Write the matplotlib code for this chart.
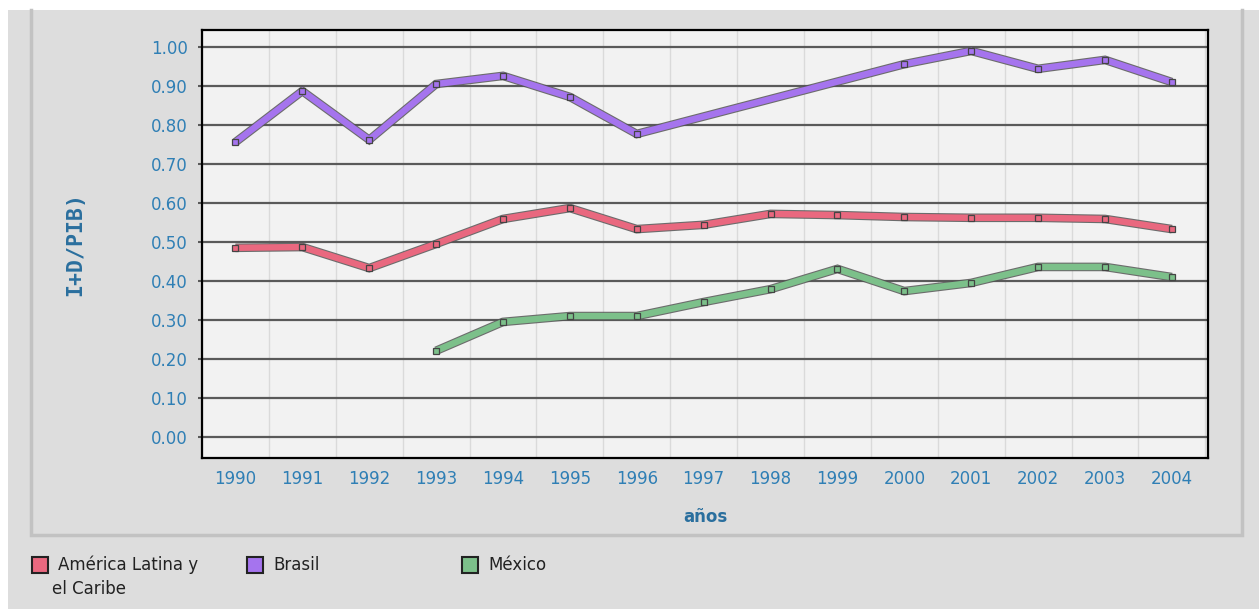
import numpy as np
import matplotlib
matplotlib.use("Agg")
import matplotlib.pyplot as plt
from matplotlib import patheffects as pe
from matplotlib.patches import Rectangle
from matplotlib.lines import Line2D

years = list(range(1990, 2005))
america_latina = [0.485, 0.487, 0.433, 0.495, 0.559, 0.587, 0.533, 0.544,
                  0.572, 0.569, 0.564, 0.562, 0.562, 0.559, 0.533]
brasil = [0.756, 0.887, 0.762, 0.905, 0.926, 0.872, 0.777, None,
          None, None, 0.956, 0.990, 0.944, 0.967, 0.910]
mexico = [None, None, None, 0.221, 0.295, 0.310, 0.310, 0.346,
          0.379, 0.431, 0.374, 0.395, 0.436, 0.436, 0.410]

series = [("América Latina y\nel Caribe", america_latina, "#e9687f"),
          ("Brasil", brasil, "#a574ee"),
          ("México", mexico, "#7cc08a")]

yticks = [i / 10 for i in range(11)]
tick_color = "#2f7fb5"
label_color = "#2a6f9e"

W, H = 1259, 609
fig = plt.figure(figsize=(W / 100, H / 100), dpi=100)
fig.patch.set_facecolor("white")

# gray page background and panel frame (left, bottom, right sides only)
fig.patches.append(Rectangle((8 / W, 0), 1, 1 - 10 / H, transform=fig.transFigure,
                             facecolor="#dddddd", edgecolor="none", zorder=-10))
px = [31 / W, 31 / W, 1242 / W, 1242 / W]
py = [1 - 10 / H, 1 - 535 / H, 1 - 535 / H, 1 - 10 / H]
fig.lines.append(Line2D(px, py, transform=fig.transFigure, color="#c2c2c2",
                        linewidth=2.5, solid_joinstyle="miter", zorder=-9))

ax = fig.add_axes([202 / W, 1 - 458 / H, (1208 - 202) / W, (458 - 30) / H])
ax.set_facecolor("#f2f2f2")

for name, vals, col in series:
    xs = [x for x, v in zip(years, vals) if v is not None]
    ys = [v for v in vals if v is not None]
    ax.plot(xs, ys, color=col, linewidth=4.6, solid_capstyle="butt",
            solid_joinstyle="miter", zorder=3,
            path_effects=[pe.Stroke(linewidth=6.2, foreground="#555555", alpha=0.85),
                          pe.Normal()])
    ax.plot(xs, ys, linestyle="none", marker="s", markersize=5,
            markerfacecolor=col, markeredgecolor="#444444",
            markeredgewidth=0.9, zorder=4)

ax.set_xlim(1989.5, 2004.54)
ax.set_ylim(-0.054, 1.0436)
ax.set_xticks(years)
ax.set_xticks(np.arange(1989.5, 2005, 1.0), minor=True)
ax.set_yticks(yticks)
ax.set_yticklabels([f"{v:.2f}" for v in yticks])

ax.grid(True, axis="y", which="major", color="#5a5a5a", linewidth=1.6, zorder=1)
ax.grid(True, axis="x", which="minor", color="#dadada", linewidth=1.0, zorder=1)
ax.grid(False, axis="x", which="major")
ax.set_axisbelow(True)

ax.tick_params(axis="y", which="major", length=3, width=1.5, color="#5a5a5a",
               labelcolor=tick_color, labelsize=12, pad=7)
ax.tick_params(axis="x", which="both", length=0, labelcolor=tick_color,
               labelsize=12, pad=9)
ax.tick_params(axis="y", which="minor", length=0)

for sp in ax.spines.values():
    sp.set_color("black")
    sp.set_linewidth(1.6)

ax.set_xlabel("años", fontsize=12, fontweight="bold", color=label_color, labelpad=14)
fig.text(75 / W, 1 - 244 / H, "I+D/PIB)", rotation=90, ha="center", va="center",
         family="DejaVu Sans Mono", fontweight="bold", fontsize=15.5, color=label_color)

# legend below the panel
leg_pos = [(32, 58, 52), (247, 273, None), (462, 488, None)]
for (name, vals, col), (sx, tx, tx2) in zip(series, leg_pos):
    fig.patches.append(Rectangle((sx / W, 1 - 573 / H), 16 / W, 16 / H,
                                 transform=fig.transFigure, facecolor=col,
                                 edgecolor="#222222", linewidth=1.5))
    lines = name.split("\n")
    fig.text(tx / W, 1 - 565 / H, lines[0], ha="left", va="center",
             fontsize=12, color="#222222")
    if len(lines) > 1:
        fig.text(tx2 / W, 1 - 589 / H, lines[1], ha="left", va="center",
                 fontsize=12, color="#222222")

fig.savefig("out.png", dpi=100, facecolor=fig.get_facecolor())
